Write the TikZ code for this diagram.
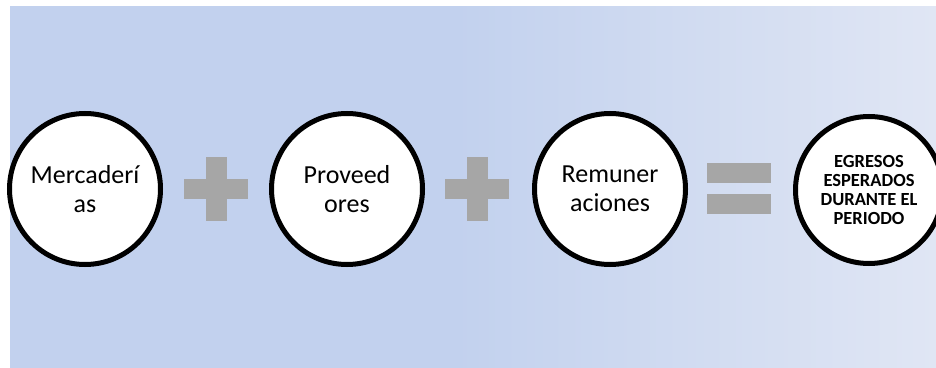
\documentclass[tikz,border=0pt]{standalone}
\usepackage{fontspec}
\setmainfont{Carlito}
\usetikzlibrary{positioning}
\definecolor{bgleft}{HTML}{C2D1EE}
\definecolor{bgright}{HTML}{E0E6F4}
\definecolor{opgray}{HTML}{A6A6A6}
% the path spans 25bp..75bp of the shading
\pgfdeclarehorizontalshading{panelshade}{100bp}{color(0bp)=(bgleft); color(25bp)=(bgleft); color(49bp)=(bgleft); color(75bp)=(bgright); color(100bp)=(bgright)}
\tikzset{
  term/.style={circle, draw=black, line width=5pt, fill=white, minimum size=151pt, inner sep=0pt,
    align=center, font=\fontsize{26}{28.5}\selectfont},
  total/.style={term, minimum size=147pt, font=\fontsize{18.5}{19.3}\selectfont\bfseries},
  opbar/.style={fill=opgray, draw=none}
}
\begin{document}
\begin{tikzpicture}[x=1pt,y=1pt]
\useasboundingbox (0,0) rectangle (936,367);
\clip (0,0) rectangle (936,367);
% shaded panel behind the formula
\shade[shading=panelshade] (10,0) rectangle (936,360);
% terms
\node[term] (merc) at (85,178) {Mercaderí\\as};
\node[term] (prov) at (347,178) {Proveed\\ores};
\node[term] (remu) at (610,178) {Remuner\\aciones};
\node[total] (egre) at (869,177) {EGRESOS\\ESPERADOS\\DURANTE EL\\PERIODO};
% plus signs
\coordinate (plusA) at (216,178);
\coordinate (plusB) at (477,178);
\foreach \p in {plusA,plusB}{
  \fill[opbar] ([xshift=-32pt,yshift=-10pt]\p) rectangle ([xshift=32pt,yshift=10pt]\p);
  \fill[opbar] ([xshift=-10.5pt,yshift=-32pt]\p) rectangle ([xshift=10.5pt,yshift=32pt]\p);
}
% equals sign
\coordinate (eq) at (739,178.5);
\fill[opbar] ([xshift=-32pt,yshift=5.5pt]eq) rectangle ([xshift=32pt,yshift=25.5pt]eq);
\fill[opbar] ([xshift=-32pt,yshift=-25.5pt]eq) rectangle ([xshift=32pt,yshift=-5.5pt]eq);
\end{tikzpicture}
\end{document}
